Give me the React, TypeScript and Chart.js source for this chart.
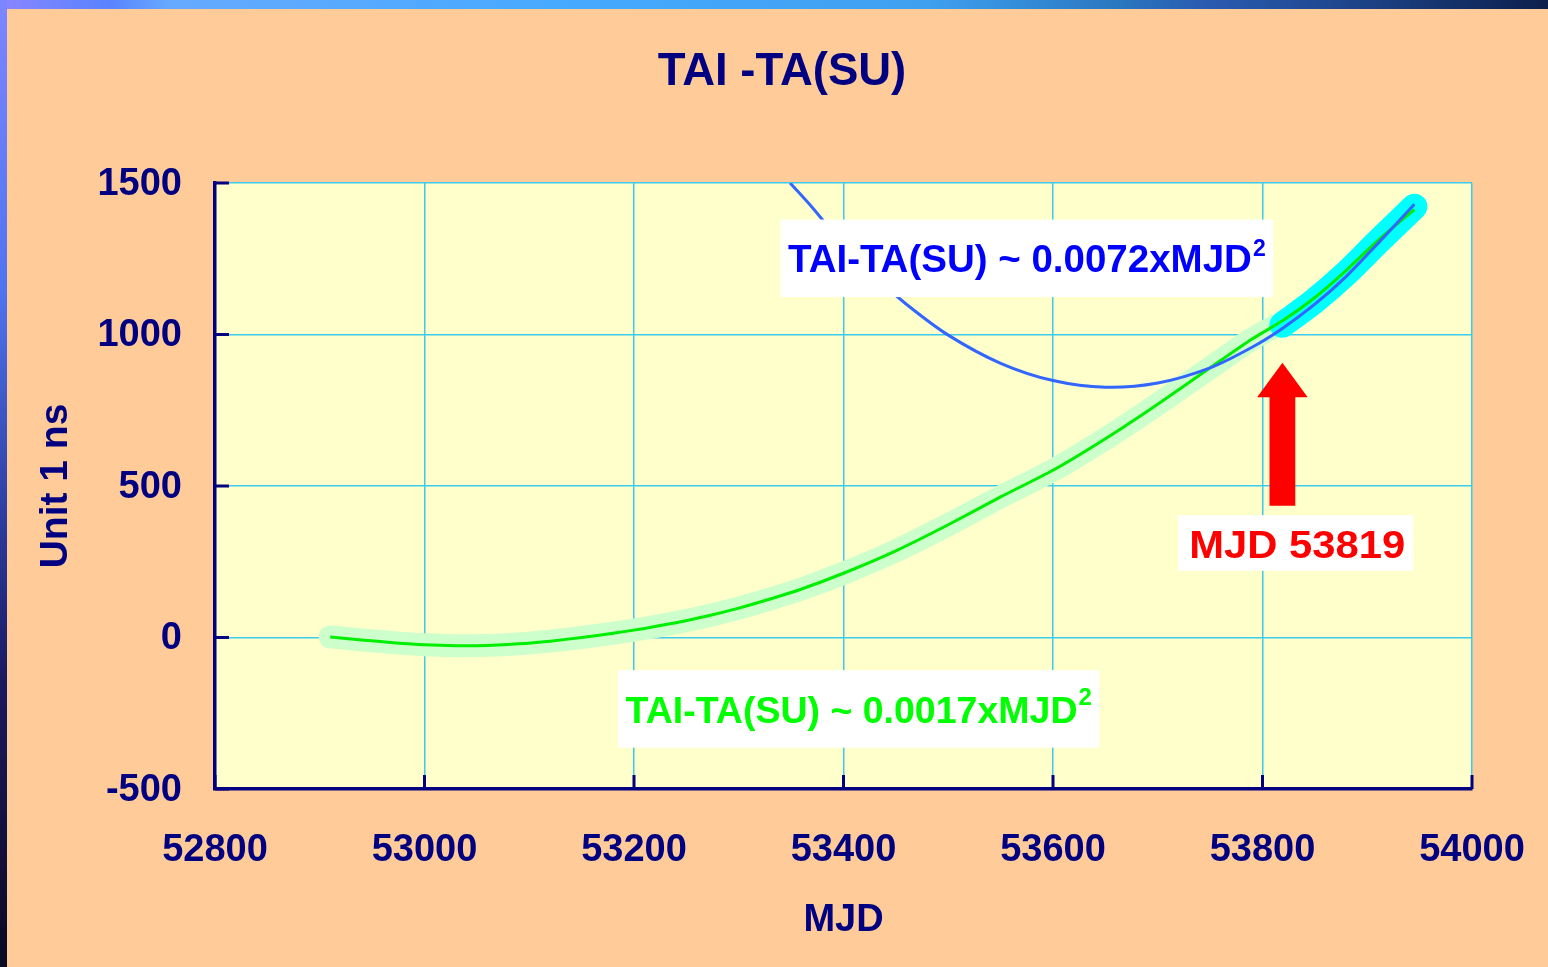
import React, { useEffect, useRef } from 'react';
import { Chart, registerables } from 'chart.js';

Chart.register(...registerables);

// ---- text ----
const TITLE = 'TAI -TA(SU)';
const X_TITLE = 'MJD';
const Y_TITLE = 'Unit 1 ns';
const FIT_RECENT_TEXT = 'TAI-TA(SU) ~ 0.0072xMJD';
const FIT_ALL_TEXT = 'TAI-TA(SU) ~ 0.0017xMJD';
const SUPERSCRIPT = '2';
const MARK_TEXT = 'MJD 53819';

// ---- axes ----
const X_TICKS = [52800, 53000, 53200, 53400, 53600, 53800, 54000];
const Y_TICKS = [-500, 0, 500, 1000, 1500];

// ---- data (MJD, ns) ----
// all measurements (light green halo) up to MJD 53819
const dataMJD = [52910, 52940, 52970, 53000, 53030, 53060, 53090, 53120, 53150, 53180, 53210, 53240, 53270, 53300, 53330, 53360, 53400, 53450, 53500, 53550, 53600, 53650, 53700, 53750, 53790, 53819];
const dataVal = [2, -8, -17, -24, -27, -26, -21, -12, 0, 14, 30, 49, 71, 97, 127, 160, 212, 286, 372, 464, 552, 656, 770, 890, 985, 1040];

// recent measurements (cyan halo) after MJD 53819
const recentMJD = [53819, 53850, 53880, 53910, 53945];
const recentVal = [1032, 1112, 1202, 1305, 1422];

// green curve: ~0.0017 x MJD^2
const greenMJD = [52910, 52940, 52970, 53000, 53030, 53060, 53090, 53120, 53150, 53180, 53210, 53240, 53270, 53300, 53330, 53360, 53400, 53450, 53500, 53550, 53600, 53650, 53700, 53750, 53790, 53819, 53850, 53880, 53910, 53945];
const greenVal = [2, -8, -17, -24, -27, -26, -21, -12, 0, 14, 30, 49, 71, 97, 127, 160, 212, 286, 372, 464, 552, 656, 770, 890, 985, 1045, 1122, 1212, 1310, 1412];

// blue curve: ~0.0072 x MJD^2
const blueMJD = [53349, 53370, 53400, 53430, 53460, 53500, 53550, 53600, 53650, 53700, 53750, 53790, 53819, 53850, 53880, 53910, 53945];
const blueVal = [1500, 1420, 1296, 1190, 1100, 998, 905, 848, 826, 840, 890, 958, 1020, 1100, 1192, 1300, 1430];

// annotation anchors (data coordinates: text start MJD, baseline value)
const FIT_RECENT_ANCHOR = [53347, 1206];
const FIT_ALL_ANCHOR = [53192, -281];
const MARK_ANCHOR = [53730, 261];
const MARK_MJD = 53819;
const ARROW_VALUES = [907, 793, 435]; // tip, head base, shaft bottom

const FONT = '"Liberation Sans", Arial, Helvetica, sans-serif';
const NAVY = '#000080';
const GRID = '#3CCBEB';

const pts = (xs: number[], ys: number[]) => xs.map((x, i) => ({ x, y: ys[i] }));

const framePlugin = {
  id: 'frame',
  beforeDraw(chart: any) {
    const { ctx, width, height, chartArea: a } = chart;
    ctx.save();
    const gt = ctx.createLinearGradient(0, 0, width, 0);
    gt.addColorStop(0, '#8A86FF');
    gt.addColorStop(0.07, '#5A82FF');
    gt.addColorStop(0.11, '#66AAFF');
    gt.addColorStop(0.35, '#48AAFF');
    gt.addColorStop(0.6, '#3FA0F0');
    gt.addColorStop(0.72, '#2A78C0');
    gt.addColorStop(0.78, '#2A5AB0');
    gt.addColorStop(0.86, '#1F4890');
    gt.addColorStop(1, '#0D1F4C');
    ctx.fillStyle = gt;
    ctx.fillRect(0, 0, width, 9);
    const gl = ctx.createLinearGradient(0, 0, 0, height);
    gl.addColorStop(0, '#7C86FF');
    gl.addColorStop(0.3, '#4F74F0');
    gl.addColorStop(0.55, '#2A3A9A');
    gl.addColorStop(0.7, '#1A1A60');
    gl.addColorStop(1, '#0A0A22');
    ctx.fillStyle = gl;
    ctx.fillRect(0, 0, 7, height);
    ctx.fillStyle = '#FFCC99';
    ctx.fillRect(7, 9, width - 7, height - 9);
    ctx.fillStyle = '#FFFFCC';
    ctx.fillRect(a.left, a.top, a.right - a.left, a.bottom - a.top);
    // title
    ctx.fillStyle = NAVY;
    ctx.font = `bold 45.5px ${FONT}`;
    ctx.textAlign = 'center';
    ctx.textBaseline = 'alphabetic';
    ctx.fillText(TITLE, width / 2 + 8, 85);
    ctx.restore();
  },
};

function drawFitLabel(chart: any, text: string, color: string, anchor: number[], size: number, supSize: number, supRise: number) {
  const { ctx } = chart;
  const x = chart.scales.x.getPixelForValue(anchor[0]);
  const y = chart.scales.y.getPixelForValue(anchor[1]);
  ctx.font = `bold ${size}px ${FONT}`;
  const w = ctx.measureText(text).width;
  ctx.font = `bold ${supSize}px ${FONT}`;
  const sw = ctx.measureText(SUPERSCRIPT).width;
  ctx.fillStyle = '#FFFFFF';
  ctx.fillRect(x - 7.5, y - 52.5, w + sw + 1 + 15, 77.5);
  ctx.fillStyle = color;
  ctx.textAlign = 'left';
  ctx.textBaseline = 'alphabetic';
  ctx.font = `bold ${size}px ${FONT}`;
  ctx.fillText(text, x, y);
  ctx.font = `bold ${supSize}px ${FONT}`;
  ctx.fillText(SUPERSCRIPT, x + w + 1, y - supRise);
}

const annotationPlugin = {
  id: 'annotations',
  afterDatasetsDraw(chart: any) {
    const { ctx } = chart;
    const xs = chart.scales.x;
    const ys = chart.scales.y;
    ctx.save();
    drawFitLabel(chart, FIT_RECENT_TEXT, '#0000FF', FIT_RECENT_ANCHOR, 38.5, 23, 16);
    drawFitLabel(chart, FIT_ALL_TEXT, '#00FF00', FIT_ALL_ANCHOR, 37.5, 24, 17.5);

    // red arrow
    const ax = xs.getPixelForValue(MARK_MJD);
    const tip = ys.getPixelForValue(ARROW_VALUES[0]);
    const base = ys.getPixelForValue(ARROW_VALUES[1]);
    const bottom = ys.getPixelForValue(ARROW_VALUES[2]);
    ctx.fillStyle = '#FF0000';
    ctx.beginPath();
    ctx.moveTo(ax, tip);
    ctx.lineTo(ax + 25.3, base);
    ctx.lineTo(ax + 12.9, base);
    ctx.lineTo(ax + 12.9, bottom);
    ctx.lineTo(ax - 12.9, bottom);
    ctx.lineTo(ax - 12.9, base);
    ctx.lineTo(ax - 25.3, base);
    ctx.closePath();
    ctx.fill();

    // MJD 53819 label (wide bold lettering)
    const mx = xs.getPixelForValue(MARK_ANCHOR[0]);
    const my = ys.getPixelForValue(MARK_ANCHOR[1]);
    const stretch = 1.1;
    ctx.font = `bold 38px ${FONT}`;
    const mw = ctx.measureText(MARK_TEXT).width * stretch;
    ctx.fillStyle = '#FFFFFF';
    ctx.fillRect(mx - 11, my - 43.3, mw + 11 + 8, 55.7);
    ctx.fillStyle = '#FF0000';
    ctx.textAlign = 'left';
    ctx.textBaseline = 'alphabetic';
    ctx.translate(mx, my);
    ctx.scale(stretch, 1);
    ctx.fillText(MARK_TEXT, 0, 0);
    ctx.restore();
  },
  afterDraw(chart: any) {
    const { ctx, chartArea: a } = chart;
    const xs = chart.scales.x;
    const ys = chart.scales.y;
    ctx.save();
    ctx.strokeStyle = NAVY;
    ctx.lineWidth = 3;
    ctx.beginPath();
    for (const v of Y_TICKS) {
      const y = ys.getPixelForValue(v);
      ctx.moveTo(a.left, y);
      ctx.lineTo(a.left + 14, y);
    }
    for (const v of X_TICKS) {
      const x = xs.getPixelForValue(v);
      ctx.moveTo(x, a.bottom);
      ctx.lineTo(x, a.bottom - 14);
    }
    ctx.stroke();
    ctx.restore();
  },
};

export default function App() {
  const ref = useRef<HTMLCanvasElement>(null);
  useEffect(() => {
    document.body.style.margin = '0';
    document.body.style.overflow = 'hidden';
    const tickFont = { family: FONT, size: 38, weight: 'bold' as const };
    const chart = new Chart(ref.current as HTMLCanvasElement, {
      type: 'scatter',
      data: {
        datasets: [
          {
            label: 'fit recent',
            data: pts(blueMJD, blueVal),
            showLine: true,
            borderColor: '#3366FF',
            backgroundColor: '#3366FF',
            borderWidth: 3,
            pointRadius: 0,
            tension: 0.3,
          },
          {
            label: 'fit all',
            data: pts(greenMJD, greenVal),
            showLine: true,
            borderColor: '#00EE00',
            backgroundColor: '#00EE00',
            borderWidth: 3,
            pointRadius: 0,
            tension: 0.2,
          },
          {
            label: 'recent data',
            data: pts(recentMJD, recentVal),
            showLine: true,
            borderColor: '#00FFFF',
            backgroundColor: '#00FFFF',
            borderWidth: 26,
            borderCapStyle: 'round',
            borderJoinStyle: 'round',
            pointRadius: 0,
            tension: 0.2,
          },
          {
            label: 'data',
            data: pts(dataMJD, dataVal),
            showLine: true,
            borderColor: '#CCFFCC',
            backgroundColor: '#CCFFCC',
            borderWidth: 23,
            borderCapStyle: 'round',
            borderJoinStyle: 'round',
            pointRadius: 0,
            tension: 0.2,
          },
        ] as any,
      },
      options: {
        animation: false,
        responsive: false,
        layout: { padding: { top: 183, right: 76, left: 0, bottom: 0 } },
        plugins: {
          legend: { display: false },
          tooltip: { enabled: false },
          title: { display: false },
        },
        events: [],
        scales: {
          x: {
            type: 'linear',
            min: 52800,
            max: 54000,
            afterBuildTicks: (s: any) => {
              s.ticks = X_TICKS.map((value) => ({ value }));
            },
            afterFit: (s: any) => {
              s.height = 178;
              s.paddingLeft = 0;
              s.paddingRight = 0;
            },
            ticks: {
              callback: (v: any) => String(v),
              font: tickFont,
              color: NAVY,
              padding: 39,
              maxRotation: 0,
              autoSkip: false,
            },
            grid: { color: GRID, lineWidth: 1.5, drawTicks: false },
            border: { color: NAVY, width: 3.5 },
            title: {
              display: true,
              text: X_TITLE,
              color: NAVY,
              font: { family: FONT, size: 38, weight: 'bold' },
              padding: { top: 0, bottom: 23.5 },
            },
          },
          y: {
            type: 'linear',
            min: -500,
            max: 1500,
            afterBuildTicks: (s: any) => {
              s.ticks = Y_TICKS.map((value) => ({ value }));
            },
            afterFit: (s: any) => {
              s.width = 215;
              s.paddingTop = 0;
              s.paddingBottom = 0;
            },
            ticks: {
              callback: (v: any) => String(v),
              font: tickFont,
              color: NAVY,
              padding: 33,
              labelOffset: 1.5,
              autoSkip: false,
            },
            grid: { color: GRID, lineWidth: 1.5, drawTicks: false },
            border: { color: NAVY, width: 3.5 },
            title: {
              display: true,
              text: Y_TITLE,
              color: NAVY,
              font: { family: FONT, size: 39, weight: 'bold' },
              padding: { top: 32.5, bottom: 0 },
            },
          },
        },
      } as any,
      plugins: [framePlugin, annotationPlugin],
    });
    return () => chart.destroy();
  }, []);
  return (
    <canvas
      ref={ref}
      width={1548}
      height={967}
      style={{ display: 'block', width: 1548, height: 967 }}
    />
  );
}
